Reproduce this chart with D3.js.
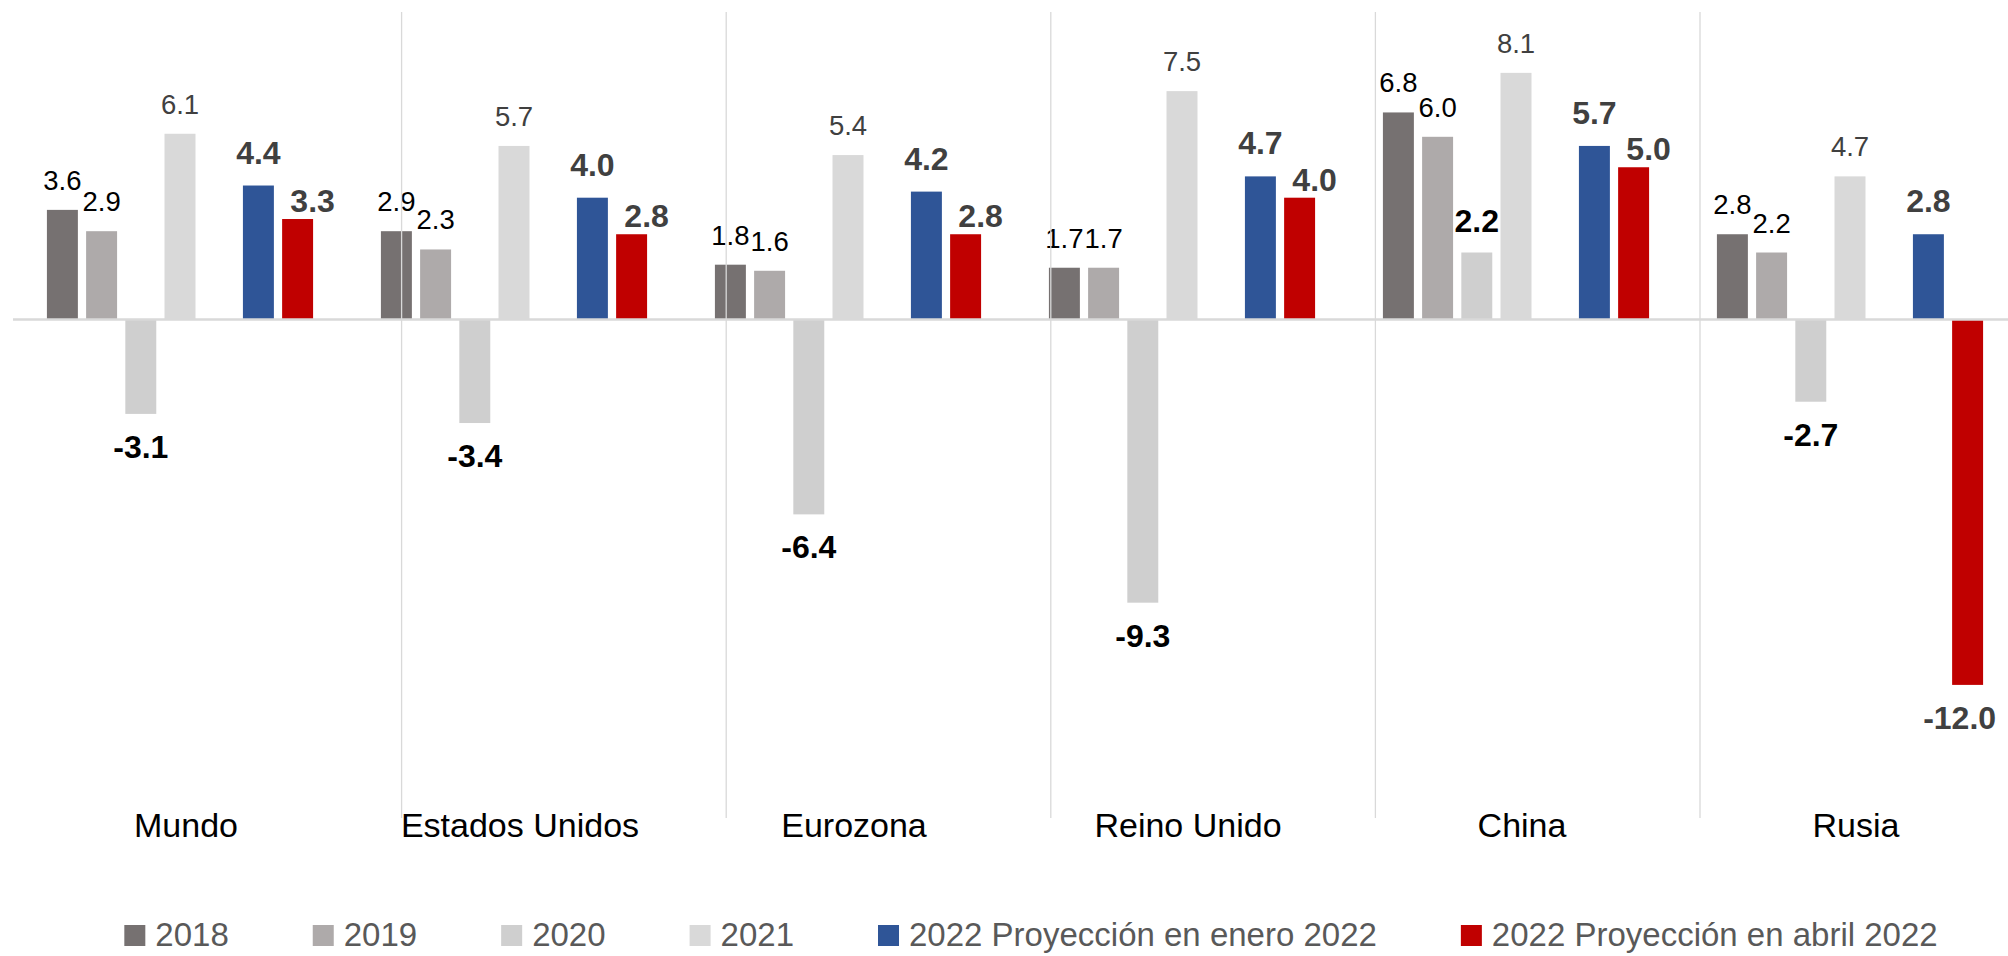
<!DOCTYPE html>
<html>
<head>
<meta charset="utf-8">
<script src="https://cdn.jsdelivr.net/npm/d3@7"></script>
<style>
  html, body { margin: 0; padding: 0; background: #fff; }
  svg { display: block; font-family: "Liberation Sans", Arial, sans-serif; }
</style>
</head>
<body>
<svg id="chart" width="2008" height="956"></svg>
<script>
// ---- data ----
const categories = ["Mundo", "Estados Unidos", "Eurozona", "Reino Unido", "China", "Rusia"];
const v2018 = [3.6, 2.9, 1.8, 1.7, 6.8, 2.8];
const v2019 = [2.9, 2.3, 1.6, 1.7, 6.0, 2.2];
const v2020 = [-3.1, -3.4, -6.4, -9.3, 2.2, -2.7];
const v2021 = [6.1, 5.7, 5.4, 7.5, 8.1, 4.7];
const vEnero = [4.4, 4.0, 4.2, 4.7, 5.7, 2.8];
const vAbril = [3.3, 2.8, 2.8, 4.0, 5.0, -12.0];
const seriesNames = ["2018", "2019", "2020", "2021", "2022 Proyección en enero 2022", "2022 Proyección en abril 2022"];
const seriesValues = [v2018, v2019, v2020, v2021, vEnero, vAbril];
// slot order inside each group (one empty slot between 2021 and the 2022 projections)
const slotKeys = ["2018", "2019", "2020", "2021", "gap", "2022 Proyección en enero 2022", "2022 Proyección en abril 2022"];

// ---- styles ----
const colors = ["#767171", "#AEAAAA", "#CFCFCF", "#D9D9D9", "#2F5597", "#C00000"];
const labelStyle = [
  { weight: "normal", size: 27.5, fill: "#000000", dx: 0, gap: 20 },
  { weight: "normal", size: 27.5, fill: "#000000", dx: 0, gap: 20 },
  { weight: "bold", size: 32, fill: "#000000", dx: 0, gap: 21 },
  { weight: "normal", size: 27.5, fill: "#404040", dx: 0, gap: 20 },
  { weight: "bold", size: 32, fill: "#404040", dx: 0, gap: 22 },
  { weight: "bold", size: 32, fill: "#404040", dx: 15, gap: 7, ndx: -8 }
];

const W = 2008, H = 956;
const svg = d3.select("#chart");
const fmt = v => d3.format(".1f")(v).replace("\u2212", "-");

const x0 = d3.scaleBand().domain(categories).range([13, 2017]).paddingInner(0).paddingOuter(0);
const x1 = d3.scaleBand().domain(slotKeys).range([0, x0.bandwidth()]).paddingInner(0.21).paddingOuter(0.865);
const y = d3.scaleLinear().domain([-16, 10]).range([806.7, 15]);

const rows = [];
seriesNames.forEach((s, si) => {
  categories.forEach((c, ci) => {
    rows.push({ series: s, si, cat: c, value: seriesValues[si][ci] });
  });
});

// bars
svg.append("g").selectAll("rect").data(rows).join("rect")
  .attr("x", d => x0(d.cat) + x1(d.series))
  .attr("width", x1.bandwidth())
  .attr("y", d => d.value >= 0 ? y(d.value) : y(0))
  .attr("height", d => Math.abs(y(d.value) - y(0)))
  .attr("fill", d => colors[d.si]);

// zero axis line
svg.append("line")
  .attr("x1", x0.range()[0]).attr("x2", W)
  .attr("y1", y(0)).attr("y2", y(0))
  .attr("stroke", "#D9D9D9").attr("stroke-width", 2.5);

// data labels
svg.append("g").selectAll("text").data(rows).join("text")
  .attr("x", d => {
    const st = labelStyle[d.si];
    const cx = x0(d.cat) + x1(d.series) + x1.bandwidth() / 2;
    return cx + (d.value >= 0 ? st.dx : (st.ndx || 0));
  })
  .attr("y", d => {
    const st = labelStyle[d.si];
    return d.value >= 0 ? y(d.value) - st.gap : y(d.value) + 44;
  })
  .attr("text-anchor", "middle")
  .attr("font-size", d => labelStyle[d.si].size)
  .attr("font-weight", d => labelStyle[d.si].weight)
  .attr("fill", d => labelStyle[d.si].fill)
  .text(d => fmt(d.value));

// category labels
svg.append("g").selectAll("text").data(categories).join("text")
  .attr("x", d => x0(d) + x0.bandwidth() / 2 + 6)
  .attr("y", 837)
  .attr("text-anchor", "middle")
  .attr("font-size", 34)
  .attr("fill", "#000")
  .text(d => d);

// vertical separators (drawn over bars and labels)
const sepIdx = d3.range(1, categories.length);
const sepX = d3.scaleLinear().domain([1, categories.length - 1]).range([401.6, 1700]);
svg.append("g").selectAll("line").data(sepIdx).join("line")
  .attr("x1", d => sepX(d)).attr("x2", d => sepX(d))
  .attr("y1", 12).attr("y2", 818)
  .attr("stroke", "#D9D9D9").attr("stroke-width", 1.3);

// legend
const lg = svg.append("g");
const items = lg.selectAll("g").data(seriesNames).join("g");
items.append("rect").attr("width", 21).attr("height", 21).attr("y", 925)
  .attr("fill", (d, i) => colors[i]);
items.append("text").attr("x", 31).attr("y", 946)
  .attr("font-size", 33).attr("fill", "#595959").text(d => d);
let widths = [];
items.each(function () { widths.push(31 + d3.select(this).select("text").node().getComputedTextLength()); });
const gapL = 84;
const total = d3.sum(widths) + gapL * (widths.length - 1);
let cur = 1031 - total / 2;
items.attr("transform", (d, i) => { const t = `translate(${cur},0)`; cur += widths[i] + gapL; return t; });
</script>
</body>
</html>
